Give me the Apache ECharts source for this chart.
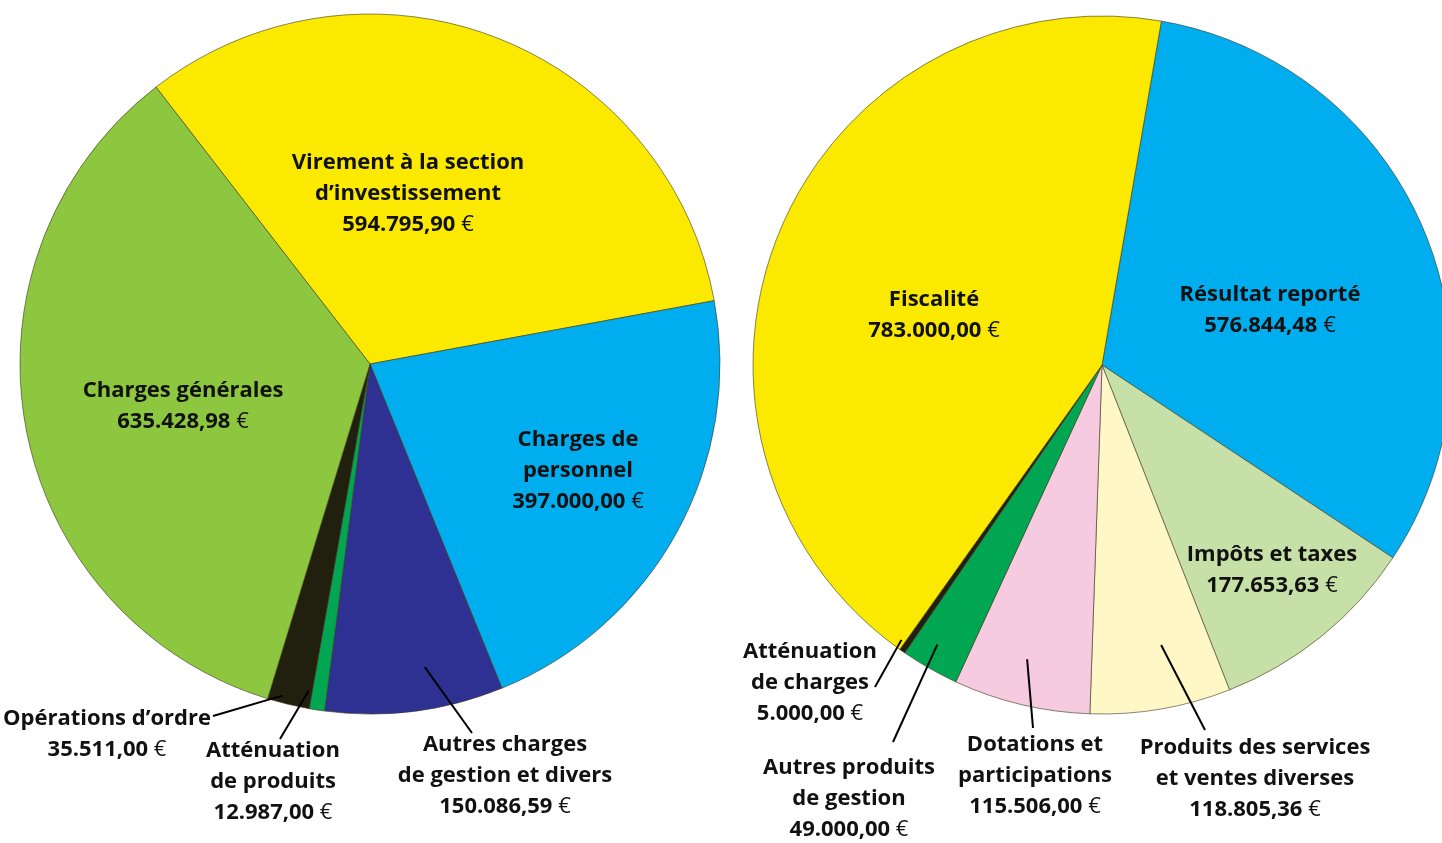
<!DOCTYPE html>
<html>
<head>
<meta charset="utf-8">
<script src="https://cdn.jsdelivr.net/npm/echarts@6/dist/echarts.min.js"></script>
<style>
html, body { margin: 0; background: #fff; }
#chart { width: 1442px; height: 843px; }
</style>
</head>
<body>
<div id="chart"></div>
<script>
// dépenses (left pie)
const leftNames = [
  'Virement à la section\nd’investissement',
  'Charges de\npersonnel',
  'Autres charges\nde gestion et divers',
  'Atténuation\nde produits',
  'Opérations d’ordre',
  'Charges générales'
]
const leftValues = [594795.90, 397000.00, 150086.59, 12987.00, 35511.00, 635428.98]
const leftColors = ['#FBEA00', '#00AEEF', '#2E3192', '#00A651', '#211F0E', '#8DC63F']

// recettes (right pie)
const rightNames = [
  'Résultat reporté',
  'Impôts et taxes',
  'Produits des services\net ventes diverses',
  'Dotations et\nparticipations',
  'Autres produits\nde gestion',
  'Atténuation\nde charges',
  'Fiscalité'
]
const rightValues = [576844.48, 177653.63, 118805.36, 115506.00, 49000.00, 5000.00, 783000.00]
const rightColors = ['#00AEEF', '#C6E0A8', '#FFF8C6', '#F6CBE0', '#00A651', '#211F0E', '#FBEA00']

// label placement: text centre offset from the pie centre, optional leader line
// (line = end offset, from = start radius fraction, da = angle nudge in degrees)
const leftLabels = [
  { at: [38, -170] },
  { at: [208, 107] },
  { at: [135, 412], line: [102, 369], from: 0.88, da: -2.9 },
  { at: [-97, 418], line: [-90, 375], from: 0.95, da: 1.9 },
  { at: [-263, 370], line: [-157, 352], from: 0.98, da: 1.3 },
  { at: [-187, 42] }
]
const rightLabels = [
  { at: [168, -55] },
  { at: [170, 205] },
  { at: [153, 414], line: [103, 365], from: 0.82, da: -2.2 },
  { at: [-67, 411], line: [-69, 363], from: 0.87, da: 0.9 },
  { at: [-253, 434], line: [-209, 377], from: 0.93, da: 0.9 },
  { at: [-292, 318], line: [-227, 322], from: 0.975, da: 1.2 },
  { at: [-168, -50] }
]

const fmt = v => {
  const [i, d] = v.toFixed(2).split('.')
  return i.replace(/\B(?=(\d{3})+(?!\d))/g, '.') + ',' + d
}

const font = 'Open Sans'
const rich = {
  b: { fontFamily: font, fontWeight: 'bold', fontSize: 22, lineHeight: 31, color: '#111' },
  e: { fontFamily: font, fontWeight: 'normal', fontSize: 22, lineHeight: 31, color: '#111' }
}

// leader lines, from inside the slice (near its mid angle) to the label
function leaderLines(values, labels, center, radius, startAngle) {
  const total = values.reduce((a, b) => a + b, 0)
  let acc = 0
  const out = []
  values.forEach((v, i) => {
    const L = labels[i]
    if (L.line) {
      const a = (startAngle - 360 * (acc + v / 2) / total - (L.da || 0)) * Math.PI / 180
      out.push({
        type: 'polyline',
        silent: true,
        z: 10,
        shape: {
          points: [
            [center[0] + radius * L.from * Math.cos(a), center[1] - radius * L.from * Math.sin(a)],
            [center[0] + L.line[0], center[1] + L.line[1]]
          ]
        },
        style: { stroke: '#000', lineWidth: 2 }
      })
    }
    acc += v
  })
  return out
}

function makePie(names, values, colors, labels, center, radius, startAngle) {
  return {
    type: 'pie',
    center: center,
    radius: radius,
    startAngle: startAngle,
    clockwise: true,
    silent: true,
    avoidLabelOverlap: false,
    itemStyle: { borderColor: 'rgba(60,55,30,0.6)', borderWidth: 1 },
    labelLine: { show: false },
    label: {
      position: 'inside',
      formatter: p => p.name.split('\n').map(s => '{b|' + s + '}').join('\n') +
        '\n{b|' + fmt(p.value) + '}{e| €}',
      rich: rich
    },
    labelLayout: params => {
      const L = labels[params.dataIndex]
      return {
        x: center[0] + L.at[0],
        y: center[1] + L.at[1],
        align: 'center',
        verticalAlign: 'middle'
      }
    },
    data: names.map((n, i) => ({
      name: n,
      value: values[i],
      itemStyle: { color: colors[i] }
    }))
  }
}

const L_CENTER = [370, 364], L_R = 350, L_START = 127.7
const R_CENTER = [1102, 365], R_R = 349, R_START = 80.2

const chart = echarts.init(document.getElementById('chart'))
chart.setOption({
  animation: false,
  backgroundColor: '#fff',
  series: [
    makePie(leftNames, leftValues, leftColors, leftLabels, L_CENTER, L_R, L_START),
    makePie(rightNames, rightValues, rightColors, rightLabels, R_CENTER, R_R, R_START)
  ],
  graphic: leaderLines(leftValues, leftLabels, L_CENTER, L_R, L_START)
    .concat(leaderLines(rightValues, rightLabels, R_CENTER, R_R, R_START))
})
window.addEventListener('resize', () => chart.resize())
</script>
</body>
</html>
